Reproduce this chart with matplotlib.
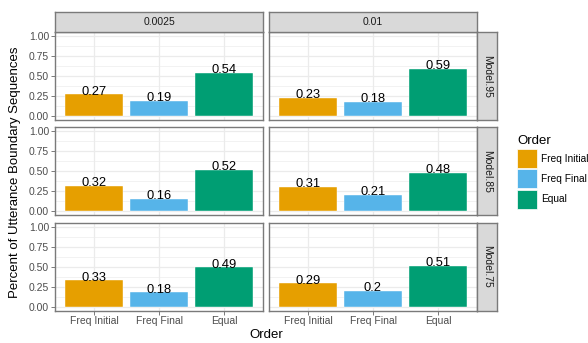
import numpy as np
import matplotlib.pyplot as plt
from matplotlib.patches import Rectangle

plt.rcParams['font.family'] = ['Liberation Sans', 'DejaVu Sans']

orders = ['Freq Initial', 'Freq Final', 'Equal']
colors = ['#E69F00', '#56B4E9', '#009E73']
rates = ['0.0025', '0.01']
models = ['Model.95', 'Model.85', 'Model.75']

# proportions per model (rows) and rate (columns), in the order of `orders`
m95_0025 = [0.27, 0.19, 0.54]
m95_001 = [0.23, 0.18, 0.59]
m85_0025 = [0.32, 0.16, 0.52]
m85_001 = [0.31, 0.21, 0.48]
m75_0025 = [0.33, 0.18, 0.49]
m75_001 = [0.29, 0.20, 0.51]
values = [[m95_0025, m95_001], [m85_0025, m85_001], [m75_0025, m75_001]]

W, H = 588, 343
fig = plt.figure(figsize=(W / 100, H / 100), dpi=100)

def box(x0, y0, w, h):
    # pixel box (top-left origin) -> figure fraction
    return [x0 / W, 1 - (y0 + h) / H, w / W, h / H]

col_left = [55, 269]
pw = 208
row_top = [32, 127.3, 222.6]
ph = 88
edge = '#7A7A7A'
strip_bg = '#D9D9D9'
grid_c = '#EBEBEB'
tick_c = '#4D4D4D'

x = np.arange(1, 4)
for r in range(3):
    for c in range(2):
        ax = fig.add_axes(box(col_left[c], row_top[r], pw, ph))
        vals = values[r][c]
        ax.bar(x, vals, width=0.9, color=colors, edgecolor='white', linewidth=0.3, zorder=2)
        for xi, v in zip(x, vals):
            ax.text(xi, v - 0.005, f'{v:g}', ha='center', va='baseline', fontsize=9.3, color='black', zorder=3)
        ax.set_xlim(0.4, 3.6)
        ax.set_ylim(-0.05, 1.05)
        ax.set_yticks([0, 0.25, 0.5, 0.75, 1.0])
        ax.set_yticks([0.125, 0.375, 0.625, 0.875], minor=True)
        ax.set_xticks(x)
        ax.grid(True, which='major', color=grid_c, lw=0.9, zorder=0)
        ax.grid(True, which='minor', axis='y', color=grid_c, lw=0.45, zorder=0)
        ax.set_axisbelow(True)
        for s in ax.spines.values():
            s.set_color(edge)
            s.set_linewidth(1.0)
        ax.tick_params(which='minor', length=0)
        ax.tick_params(which='major', length=2.7, width=0.7, color=edge, labelsize=7.5, labelcolor=tick_c, pad=1.5)
        if c == 0:
            ax.set_yticklabels(['0.00', '0.25', '0.50', '0.75', '1.00'])
        else:
            ax.tick_params(axis='y', length=0, labelleft=False)
        if r == 2:
            ax.set_xticklabels(orders)
        else:
            ax.tick_params(axis='x', length=0, labelbottom=False)

# column strips
for c in range(2):
    sax = fig.add_axes(box(col_left[c], 12, pw, 20))
    sax.set_facecolor(strip_bg)
    sax.set_xticks([]); sax.set_yticks([])
    for s in sax.spines.values():
        s.set_color(edge); s.set_linewidth(1.0)
    sax.text(0.5, 0.5, rates[c], ha='center', va='center', fontsize=7.5, color='#1A1A1A', transform=sax.transAxes)

# row strips
for r in range(3):
    sax = fig.add_axes(box(477, row_top[r], 20, ph))
    sax.set_facecolor(strip_bg)
    sax.set_xticks([]); sax.set_yticks([])
    for s in sax.spines.values():
        s.set_color(edge); s.set_linewidth(1.0)
    sax.text(0.5, 0.5, models[r], ha='center', va='center', rotation=-90, fontsize=7.5, color='#1A1A1A', transform=sax.transAxes)

# axis titles
fig.text(266 / W, 1 - 335 / H, 'Order', ha='center', va='center', fontsize=9.5)
fig.text(15 / W, 1 - 172 / H, 'Percent of Utterance Boundary Sequences', ha='center', va='center', rotation=90, fontsize=9.5)

# legend
fig.text(517 / W, 1 - 141 / H, 'Order', ha='left', va='center', fontsize=9.5)
for i, (lab, col) in enumerate(zip(orders, colors)):
    y0 = 149 + i * 20.3
    fig.patches.append(Rectangle((517 / W, 1 - (y0 + 19) / H), 20 / W, 19 / H, transform=fig.transFigure,
                                 facecolor=col, edgecolor='white', lw=0.5))
    fig.text(541 / W, 1 - (y0 + 9.5) / H, lab, ha='left', va='center', fontsize=7.3)

fig.savefig('out.png', dpi=100)
